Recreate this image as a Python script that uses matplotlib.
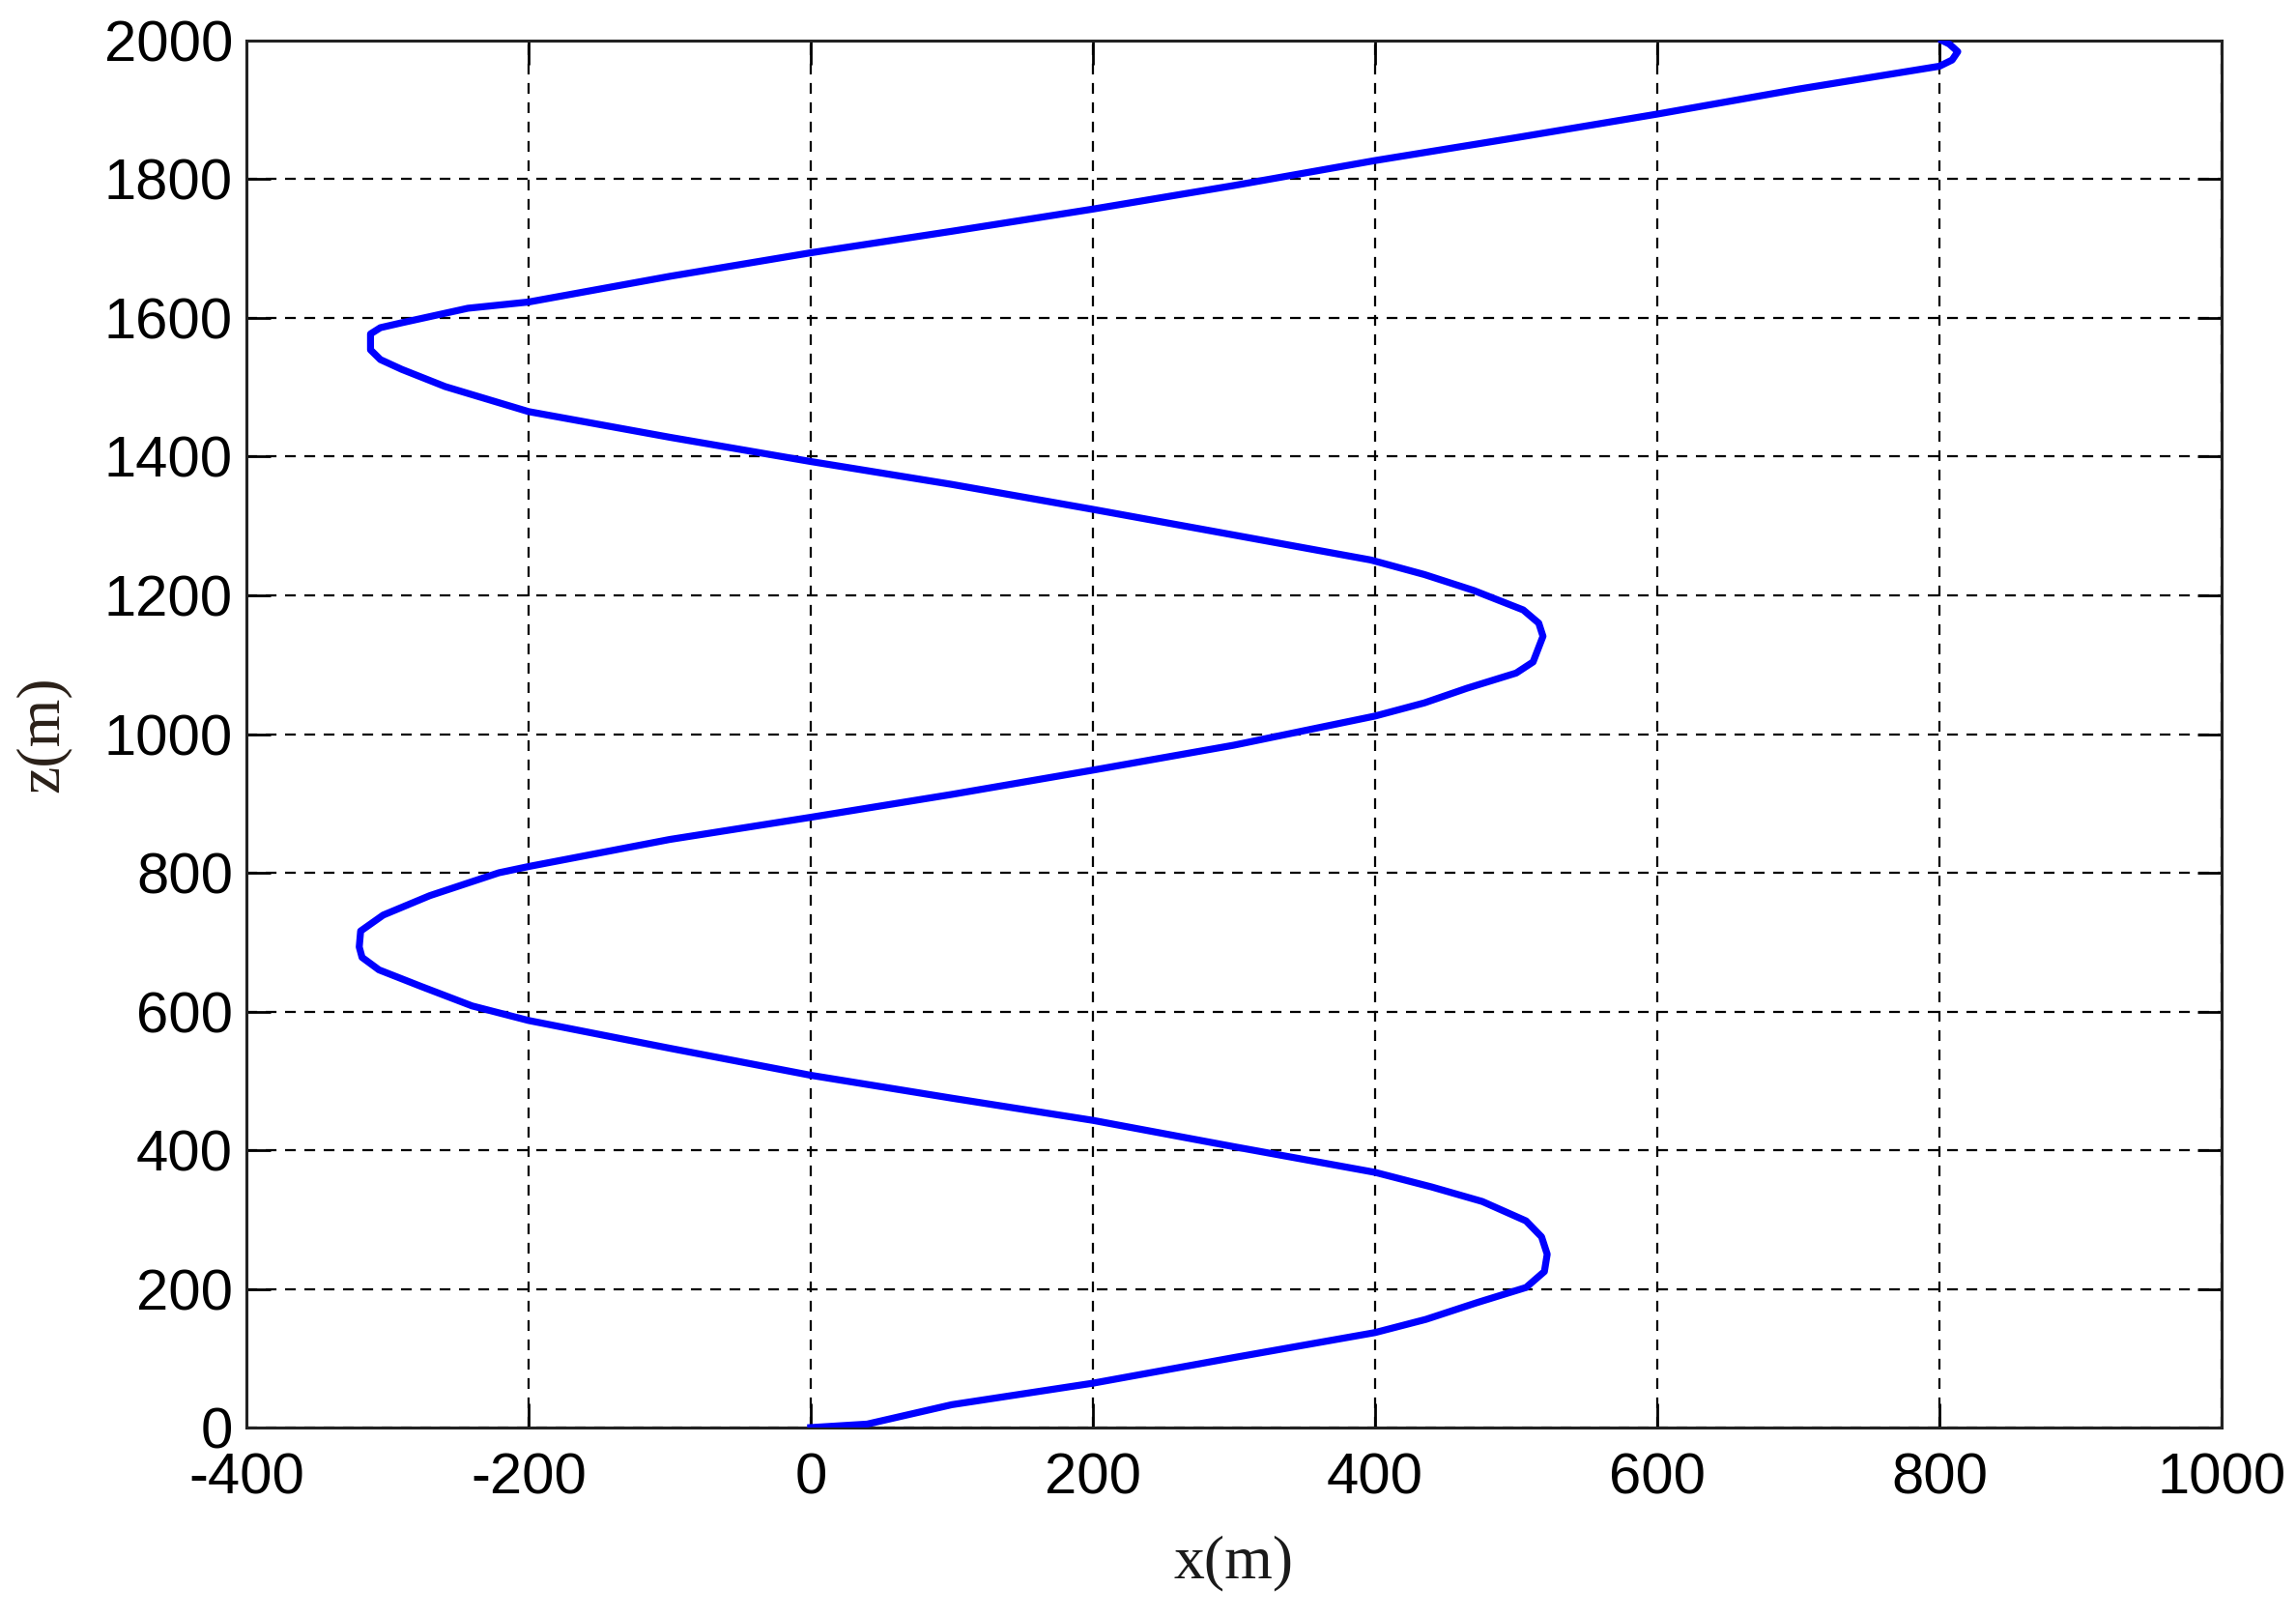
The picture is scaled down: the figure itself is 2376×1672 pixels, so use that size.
import matplotlib
matplotlib.use("Agg")
import matplotlib.pyplot as plt

# Trajectory (x in m, z in m), in path order
x_m = [0, 40, 100, 200, 300, 400, 436, 472, 507, 520, 522, 518, 507, 476, 440, 400, 300,
       200, 100, 0, -100, -200, -240, -276, -306, -318, -320,
       -319, -303, -270, -221, -200, -100, 0, 100, 200, 300, 400, 435, 465, 500,
       512, 519, 516, 505, 470, 435, 397, 300, 200, 100, 0, -100, -200, -259,
       -290, -305, -312, -312, -305, -290, -243, -200, -100, 0, 100, 200, 300,
       400, 500, 600, 700, 800, 809, 813, 807, 802]
z_m = [0, 5, 33, 64, 101, 137, 156, 180, 202, 225, 250, 275, 298, 326, 347, 368, 405,
       443, 475, 508, 547, 587, 608, 636, 660, 678, 693,
       716, 739, 767, 800, 809, 848, 880, 913, 948, 984, 1026, 1045, 1066, 1088,
       1104, 1141, 1160, 1179, 1207, 1230, 1251, 1287, 1324, 1360, 1393, 1428, 1465, 1501,
       1526, 1540, 1554, 1577, 1586, 1593, 1614, 1623, 1660, 1694, 1725, 1757, 1791,
       1827, 1860, 1894, 1930, 1963, 1972, 1984, 1995, 2000]

x_ticks = [-400, -200, 0, 200, 400, 600, 800, 1000]
z_ticks = [0, 200, 400, 600, 800, 1000, 1200, 1400, 1600, 1800, 2000]

fig = plt.figure(figsize=(11.88, 8.36), dpi=200)
ax = fig.add_axes([0.1073, 0.1166, 0.8603, 0.8583])

ax.plot(x_m, z_m, color=(0, 0, 1), lw=2.6, zorder=3, solid_joinstyle='round')

ax.set_xlim(-400, 1000)
ax.set_ylim(0, 2000)
ax.set_xticks(x_ticks)
ax.set_yticks(z_ticks)
ax.set_xticklabels([str(v) for v in x_ticks])
ax.set_yticklabels([str(v) for v in z_ticks])

ax.grid(True, color='black', linestyle=(0, (5, 4)), linewidth=0.8, zorder=1)
ax.set_axisbelow(True)

for s in ax.spines.values():
    s.set_linewidth(1.1)
    s.set_color('#222222')

ax.tick_params(axis='both', direction='in', length=9, width=1.0, top=True, right=True,
               labelsize=21.5, colors='black')
ax.tick_params(axis='x', pad=9)
ax.tick_params(axis='y', pad=5)
for lab in ax.get_xticklabels() + ax.get_yticklabels():
    lab.set_fontfamily(['Liberation Sans', 'DejaVu Sans'])

ax.set_xlabel('x(m)', fontsize=23, family=['Liberation Serif', 'DejaVu Serif'],
              color='#1a1a1a', va='center')
ax.set_ylabel('z(m)', fontsize=23, family=['Liberation Serif', 'DejaVu Serif'],
              color='#2a2018', va='center')
ax.xaxis.set_label_coords(0.5, -0.098)
ax.yaxis.set_label_coords(-0.103, 0.5)

fig.savefig('out.png', dpi=200)
